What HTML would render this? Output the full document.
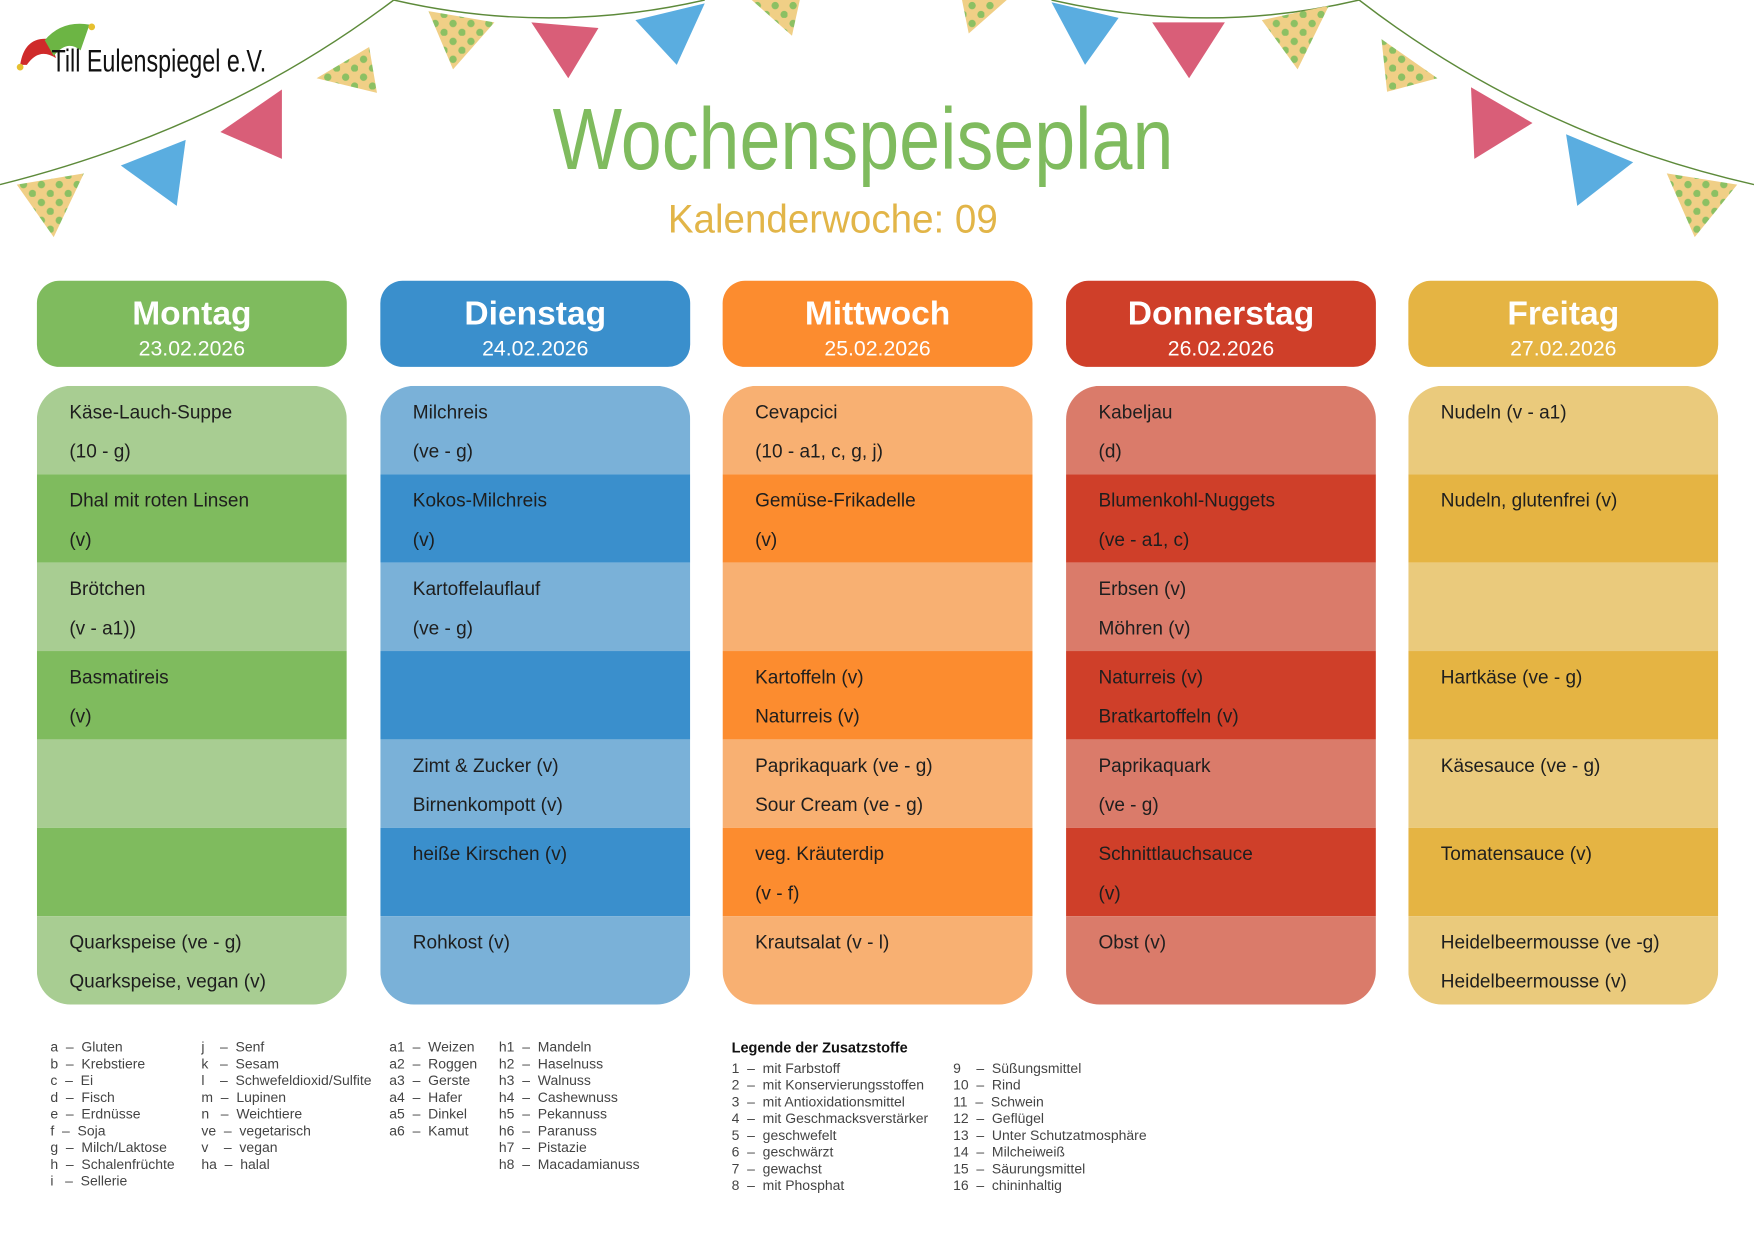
<!DOCTYPE html>
<html><head><meta charset="utf-8"><style>
html,body{margin:0;padding:0;background:#fff;overflow:hidden}
#w{position:absolute;left:0;top:0;width:1568px;height:1108px;transform:scale(1.11862);transform-origin:0 0;font-family:"Liberation Sans",sans-serif}
.h{position:absolute;top:251px;width:277px;height:77px;border-radius:20px;color:#fff;text-align:center}
.h .d{font-size:30px;font-weight:bold;margin-top:13px;line-height:34px}
.h .t{font-size:19px;line-height:24px;margin-top:3px}
.b{position:absolute;top:345px;width:277px;height:553px;border-radius:30px;overflow:hidden}
.r{height:79px;box-sizing:border-box;padding:6px 0 0 29px;font-size:17px;line-height:35px;color:#1e1e1e}
.lg{position:absolute;font-size:12.5px;line-height:15px;color:#444;white-space:pre}
</style></head><body><div id="w">
<svg width="1568" height="240" style="position:absolute;left:0;top:0">
<defs><pattern id="p" width="16" height="16" patternUnits="userSpaceOnUse"><rect width="16" height="16" fill="#f0cf86"/><circle cx="5" cy="5" r="3.3" fill="#8cc063"/><circle cx="13" cy="13" r="3.3" fill="#8cc063"/></pattern></defs>
<g fill="none" stroke="#5d8a3a" stroke-width="1.3">
<path d="M0,165 Q200,115 352,0"/><path d="M352,0 Q490,32 630,0"/><path d="M940,0 Q1080,32 1215,0"/><path d="M1215,0 Q1370,120 1568,165"/></g>
<polygon points="15,165 75,155 48,212" fill="url(#p)"/>
<polygon points="108,148 166,125 158,184" fill="#5aade0"/>
<polygon points="197,118 252,80 252,142" fill="#d95e78"/>
<polygon points="283,70 330,42 337,83" fill="url(#p)"/>
<polygon points="383,10 442,20 405,62" fill="url(#p)"/>
<polygon points="475,20 535,25 508,70" fill="#d95e78"/>
<polygon points="568,18 630,3 605,58" fill="#5aade0"/>
<polygon points="672,0 715,0 708,32" fill="url(#p)"/>
<polygon points="860,0 900,0 866,30" fill="url(#p)"/>
<polygon points="940,2 1000,16 970,58" fill="#5aade0"/>
<polygon points="1030,20 1095,20 1063,70" fill="#d95e78"/>
<polygon points="1128,18 1188,5 1160,62" fill="url(#p)"/>
<polygon points="1235,35 1285,70 1240,82" fill="url(#p)"/>
<polygon points="1315,78 1370,110 1318,142" fill="#d95e78"/>
<polygon points="1400,120 1460,145 1410,184" fill="#5aade0"/>
<polygon points="1490,155 1553,165 1515,212" fill="url(#p)"/>
<path d="M18,58 Q22,32 45,35 L50,52 Q35,42 24,58Z" fill="#cf2a2a"/>
<path d="M40,36 Q55,18 80,22 L72,45 Q60,35 48,50Z" fill="#6cb544"/>
<circle cx="18" cy="60" r="3" fill="#e6c030"/><circle cx="82" cy="24" r="3" fill="#e6c030"/>
<text x="46" y="64" font-family="Liberation Sans Narrow, Liberation Sans, sans-serif" font-size="28" fill="#111" textLength="192" lengthAdjust="spacingAndGlyphs">Till Eulenspiegel e.V.</text>
<text x="494" y="151" font-size="78" fill="#7fbb5e" textLength="555" lengthAdjust="spacingAndGlyphs">Wochenspeiseplan</text>
<text x="597" y="208" font-size="36" fill="#e2b548" textLength="295" lengthAdjust="spacingAndGlyphs">Kalenderwoche:  09</text>
</svg>

<div class="h" style="left:33px;background:#7fbb5e"><div class="d">Montag</div><div class="t">23.02.2026</div></div>
<div class="h" style="left:340px;background:#3a8fcc"><div class="d">Dienstag</div><div class="t">24.02.2026</div></div>
<div class="h" style="left:646px;background:#fc8c2f"><div class="d">Mittwoch</div><div class="t">25.02.2026</div></div>
<div class="h" style="left:953px;background:#cf3f29"><div class="d">Donnerstag</div><div class="t">26.02.2026</div></div>
<div class="h" style="left:1259px;background:#e5b443"><div class="d">Freitag</div><div class="t">27.02.2026</div></div>

<div class="b" style="left:33px">
<div class="r" style="background:#a8cd92">Käse-Lauch-Suppe<br>(10 - g)</div>
<div class="r" style="background:#7fbb5e">Dhal mit roten Linsen<br>(v)</div>
<div class="r" style="background:#a8cd92">Brötchen<br>(v - a1))</div>
<div class="r" style="background:#7fbb5e">Basmatireis<br>(v)</div>
<div class="r" style="background:#a8cd92"></div>
<div class="r" style="background:#7fbb5e"></div>
<div class="r" style="background:#a8cd92;height:80px">Quarkspeise (ve - g)<br>Quarkspeise, vegan (v)</div>
</div>
<div class="b" style="left:340px">
<div class="r" style="background:#7ab1d8">Milchreis<br>(ve - g)</div>
<div class="r" style="background:#3a8fcc">Kokos-Milchreis<br>(v)</div>
<div class="r" style="background:#7ab1d8">Kartoffelauflauf<br>(ve - g)</div>
<div class="r" style="background:#3a8fcc"></div>
<div class="r" style="background:#7ab1d8">Zimt &amp; Zucker (v)<br>Birnenkompott (v)</div>
<div class="r" style="background:#3a8fcc">heiße Kirschen (v)</div>
<div class="r" style="background:#7ab1d8;height:80px">Rohkost (v)</div>
</div>
<div class="b" style="left:646px">
<div class="r" style="background:#f8b072">Cevapcici<br>(10 - a1, c, g, j)</div>
<div class="r" style="background:#fc8c2f">Gemüse-Frikadelle<br>(v)</div>
<div class="r" style="background:#f8b072"></div>
<div class="r" style="background:#fc8c2f">Kartoffeln (v)<br>Naturreis (v)</div>
<div class="r" style="background:#f8b072">Paprikaquark (ve - g)<br>Sour Cream (ve - g)</div>
<div class="r" style="background:#fc8c2f">veg. Kräuterdip<br>(v - f)</div>
<div class="r" style="background:#f8b072;height:80px">Krautsalat (v - l)</div>
</div>
<div class="b" style="left:953px">
<div class="r" style="background:#da7b6a">Kabeljau<br>(d)</div>
<div class="r" style="background:#cf3f29">Blumenkohl-Nuggets<br>(ve - a1, c)</div>
<div class="r" style="background:#da7b6a">Erbsen (v)<br>Möhren (v)</div>
<div class="r" style="background:#cf3f29">Naturreis (v)<br>Bratkartoffeln (v)</div>
<div class="r" style="background:#da7b6a">Paprikaquark<br>(ve - g)</div>
<div class="r" style="background:#cf3f29">Schnittlauchsauce<br>(v)</div>
<div class="r" style="background:#da7b6a;height:80px">Obst (v)</div>
</div>
<div class="b" style="left:1259px">
<div class="r" style="background:#eaca7c">Nudeln (v - a1)</div>
<div class="r" style="background:#e5b443">Nudeln, glutenfrei (v)</div>
<div class="r" style="background:#eaca7c"></div>
<div class="r" style="background:#e5b443">Hartkäse (ve - g)</div>
<div class="r" style="background:#eaca7c">Käsesauce (ve - g)</div>
<div class="r" style="background:#e5b443">Tomatensauce (v)</div>
<div class="r" style="background:#eaca7c;height:80px">Heidelbeermousse (ve -g)<br>Heidelbeermousse (v)</div>
</div>

<div class="lg" style="left:45px;top:929px">a  –  Gluten
b  –  Krebstiere
c  –  Ei
d  –  Fisch
e  –  Erdnüsse
f  –  Soja
g  –  Milch/Laktose
h  –  Schalenfrüchte
i   –  Sellerie</div>
<div class="lg" style="left:180px;top:929px">j    –  Senf
k   –  Sesam
l    –  Schwefeldioxid/Sulfite
m  –  Lupinen
n   –  Weichtiere
ve  –  vegetarisch
v    –  vegan
ha  –  halal</div>
<div class="lg" style="left:348px;top:929px">a1  –  Weizen
a2  –  Roggen
a3  –  Gerste
a4  –  Hafer
a5  –  Dinkel
a6  –  Kamut</div>
<div class="lg" style="left:446px;top:929px">h1  –  Mandeln
h2  –  Haselnuss
h3  –  Walnuss
h4  –  Cashewnuss
h5  –  Pekannuss
h6  –  Paranuss
h7  –  Pistazie
h8  –  Macadamianuss</div>
<div class="lg" style="left:654px;top:929px;font-weight:bold;color:#111;font-size:13px">Legende der Zusatzstoffe</div>
<div class="lg" style="left:654px;top:948px">1  –  mit Farbstoff
2  –  mit Konservierungsstoffen
3  –  mit Antioxidationsmittel
4  –  mit Geschmacksverstärker
5  –  geschwefelt
6  –  geschwärzt
7  –  gewachst
8  –  mit Phosphat</div>
<div class="lg" style="left:852px;top:948px">9    –  Süßungsmittel
10  –  Rind
11  –  Schwein
12  –  Geflügel
13  –  Unter Schutzatmosphäre
14  –  Milcheiweiß
15  –  Säurungsmittel
16  –  chininhaltig</div>
</div></body></html>
